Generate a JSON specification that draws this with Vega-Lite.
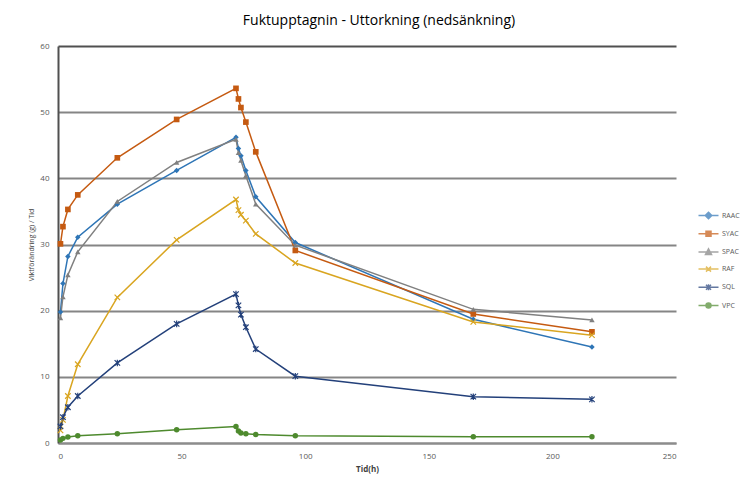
{
  "$schema": "https://vega.github.io/schema/vega-lite/v6.json",
  "autosize": {"type": "none"},
  "width": 618,
  "height": 397,
  "padding": {"left": 58, "top": 46, "right": 65, "bottom": 42},
  "background": "white",
  "title": {
    "text": "Fuktupptagnin - Uttorkning (nedsänkning)",
    "font": "Open Sans",
    "fontSize": 14,
    "fontWeight": "normal",
    "color": "#000000",
    "anchor": "middle",
    "dx": 12,
    "offset": 14
  },
  "config": {
    "view": {"stroke": null},
    "font": "Open Sans"
  },
  "data": {
    "values": [
      {"s": "RAAC", "t": 1, "v": 19.8}, {"s": "RAAC", "t": 2, "v": 24.1}, {"s": "RAAC", "t": 4, "v": 28.2}, {"s": "RAAC", "t": 8, "v": 31.1},
      {"s": "RAAC", "t": 24, "v": 36.1}, {"s": "RAAC", "t": 48, "v": 41.2}, {"s": "RAAC", "t": 72, "v": 46.2}, {"s": "RAAC", "t": 73, "v": 44.5},
      {"s": "RAAC", "t": 74, "v": 43.4}, {"s": "RAAC", "t": 76, "v": 41.2}, {"s": "RAAC", "t": 80, "v": 37.2}, {"s": "RAAC", "t": 96, "v": 30.3},
      {"s": "RAAC", "t": 168, "v": 18.7}, {"s": "RAAC", "t": 216, "v": 14.5},
      {"s": "SYAC", "t": 1, "v": 30.1}, {"s": "SYAC", "t": 2, "v": 32.7}, {"s": "SYAC", "t": 4, "v": 35.3}, {"s": "SYAC", "t": 8, "v": 37.5},
      {"s": "SYAC", "t": 24, "v": 43.1}, {"s": "SYAC", "t": 48, "v": 48.9}, {"s": "SYAC", "t": 72, "v": 53.6}, {"s": "SYAC", "t": 73, "v": 52.0},
      {"s": "SYAC", "t": 74, "v": 50.7}, {"s": "SYAC", "t": 76, "v": 48.5}, {"s": "SYAC", "t": 80, "v": 44.0}, {"s": "SYAC", "t": 96, "v": 29.1},
      {"s": "SYAC", "t": 168, "v": 19.5}, {"s": "SYAC", "t": 216, "v": 16.8},
      {"s": "SPAC", "t": 1, "v": 18.9}, {"s": "SPAC", "t": 2, "v": 22.1}, {"s": "SPAC", "t": 4, "v": 25.4}, {"s": "SPAC", "t": 8, "v": 28.9},
      {"s": "SPAC", "t": 24, "v": 36.5}, {"s": "SPAC", "t": 48, "v": 42.4}, {"s": "SPAC", "t": 72, "v": 45.9}, {"s": "SPAC", "t": 73, "v": 43.9},
      {"s": "SPAC", "t": 74, "v": 42.7}, {"s": "SPAC", "t": 76, "v": 40.4}, {"s": "SPAC", "t": 80, "v": 36.1}, {"s": "SPAC", "t": 96, "v": 29.9},
      {"s": "SPAC", "t": 168, "v": 20.2}, {"s": "SPAC", "t": 216, "v": 18.6},
      {"s": "RAF", "t": 1, "v": 1.9}, {"s": "RAF", "t": 2, "v": 3.5}, {"s": "RAF", "t": 4, "v": 7.1}, {"s": "RAF", "t": 8, "v": 11.9},
      {"s": "RAF", "t": 24, "v": 22.0}, {"s": "RAF", "t": 48, "v": 30.7}, {"s": "RAF", "t": 72, "v": 36.8}, {"s": "RAF", "t": 73, "v": 35.2},
      {"s": "RAF", "t": 74, "v": 34.5}, {"s": "RAF", "t": 76, "v": 33.6}, {"s": "RAF", "t": 80, "v": 31.6}, {"s": "RAF", "t": 96, "v": 27.2},
      {"s": "RAF", "t": 168, "v": 18.3}, {"s": "RAF", "t": 216, "v": 16.3},
      {"s": "SQL", "t": 1, "v": 2.5}, {"s": "SQL", "t": 2, "v": 3.9}, {"s": "SQL", "t": 4, "v": 5.4}, {"s": "SQL", "t": 8, "v": 7.1},
      {"s": "SQL", "t": 24, "v": 12.1}, {"s": "SQL", "t": 48, "v": 18.0}, {"s": "SQL", "t": 72, "v": 22.5}, {"s": "SQL", "t": 73, "v": 20.8},
      {"s": "SQL", "t": 74, "v": 19.4}, {"s": "SQL", "t": 76, "v": 17.5}, {"s": "SQL", "t": 80, "v": 14.2}, {"s": "SQL", "t": 96, "v": 10.1},
      {"s": "SQL", "t": 168, "v": 7.0}, {"s": "SQL", "t": 216, "v": 6.6},
      {"s": "VPC", "t": 1, "v": 0.45}, {"s": "VPC", "t": 2, "v": 0.7}, {"s": "VPC", "t": 4, "v": 0.9}, {"s": "VPC", "t": 8, "v": 1.1},
      {"s": "VPC", "t": 24, "v": 1.4}, {"s": "VPC", "t": 48, "v": 2.0}, {"s": "VPC", "t": 72, "v": 2.5}, {"s": "VPC", "t": 73, "v": 1.8},
      {"s": "VPC", "t": 74, "v": 1.5}, {"s": "VPC", "t": 76, "v": 1.4}, {"s": "VPC", "t": 80, "v": 1.3}, {"s": "VPC", "t": 96, "v": 1.1},
      {"s": "VPC", "t": 168, "v": 0.95}, {"s": "VPC", "t": 216, "v": 0.95}
    ]
  },
  "encoding": {
    "x": {
      "field": "t", "type": "quantitative",
      "scale": {"domain": [0, 250], "nice": false},
      "axis": {
        "title": "Tid(h)", "values": [0, 50, 100, 150, 200, 250],
        "grid": false, "ticks": false,
        "domainColor": "#8C8C8C", "domainWidth": 2,
        "labelFontSize": 8, "labelColor": "#595959", "labelPadding": 9,
        "titleFontSize": 8, "titleFontWeight": "bold", "titleColor": "#404040", "titlePadding": 5
      }
    },
    "y": {
      "field": "v", "type": "quantitative",
      "scale": {"domain": [0, 60], "nice": false},
      "axis": {
        "title": "Viktförändring (g) / Tid", "values": [0, 10, 20, 30, 40, 50, 60],
        "grid": true,
        "gridColor": {"condition": {"test": "datum.value === 60", "value": "#505050"}, "value": "#858585"},
        "gridWidth": 2, "ticks": false,
        "domainColor": "#505050", "domainWidth": 2,
        "labelFontSize": 8, "labelColor": "#595959", "labelPadding": 9,
        "titleFontSize": 7, "titleFontWeight": "normal", "titleColor": "#404040", "titlePadding": 5
      }
    }
  },
  "layer": [
    {
      "mark": {"type": "point", "filled": false, "size": 0},
      "encoding": {
        "shape": {
          "field": "s", "type": "nominal",
          "scale": {
            "domain": ["RAAC", "SYAC", "SPAC", "RAF", "SQL", "VPC"],
            "range": [
              "M-4,0L4,0M0,-1.3L1.3,0L0,1.3L-1.3,0Z",
              "M-4,0L4,0M-1,-1L1,-1L1,1L-1,1Z",
              "M-4,0L4,0M0,-1.2L1.2,1L-1.2,1Z",
              "M-4,0L4,0M-1,-1L1,1M-1,1L1,-1",
              "M-4,0L4,0M-1,-1L1,1M-1,1L1,-1M0,-1.2L0,1.2",
              "M-4,0L4,0M-1,0A1,1,0,1,0,1,0A1,1,0,1,0,-1,0Z"
            ]
          },
          "legend": {
            "title": null, "orient": "none", "legendX": 647, "legendY": 166,
            "symbolSize": 25, "labelFontSize": 7, "labelColor": "#595959",
            "labelOffset": 10, "rowPadding": 6.2, "padding": 0,
            "encode": {"symbols": {"update": {
              "opacity": {"value": 1},
              "fillOpacity": {"value": 1},
              "strokeOpacity": {"value": 1},
              "size": {"value": 25},
              "fill": {"scale": "color", "field": "value"},
              "stroke": {"scale": "color", "field": "value"},
              "strokeWidth": {"value": 1.5}
            }}}
          }
        },
        "color": {
          "field": "s", "type": "nominal",
          "scale": {
            "domain": ["RAAC", "SYAC", "SPAC", "RAF", "SQL", "VPC"],
            "range": ["#2E75B6", "#C55A11", "#808080", "#D9A520", "#23407A", "#4E8A2E"]
          },
          "legend": {
            "title": null, "orient": "none", "legendX": 647, "legendY": 166,
            "symbolSize": 25, "labelFontSize": 7, "labelColor": "#595959",
            "labelOffset": 10, "rowPadding": 6.2, "padding": 0,
            "encode": {"symbols": {"update": {
              "opacity": {"value": 1},
              "fillOpacity": {"value": 1},
              "strokeOpacity": {"value": 1},
              "size": {"value": 25},
              "fill": {"scale": "color", "field": "value"},
              "stroke": {"scale": "color", "field": "value"},
              "strokeWidth": {"value": 1.5}
            }}}
          }
        }
      }
    },
    {"mark": {"type": "line", "strokeWidth": 1.5}, "encoding": {"color": {"field": "s", "type": "nominal", "legend": null}}},
    {"transform": [{"filter": "datum.s === 'RAAC'"}], "mark": {"type": "point", "shape": "diamond", "filled": true, "size": 30, "opacity": 1}, "encoding": {"color": {"field": "s", "type": "nominal", "legend": null}}},
    {"transform": [{"filter": "datum.s === 'SYAC'"}], "mark": {"type": "point", "shape": "square", "filled": true, "size": 32, "opacity": 1}, "encoding": {"color": {"field": "s", "type": "nominal", "legend": null}}},
    {"transform": [{"filter": "datum.s === 'SPAC'"}], "mark": {"type": "point", "shape": "triangle-up", "filled": true, "size": 30, "opacity": 1}, "encoding": {"color": {"field": "s", "type": "nominal", "legend": null}}},
    {"transform": [{"filter": "datum.s === 'RAF'"}], "mark": {"type": "point", "shape": "M-1,-1L1,1M-1,1L1,-1", "filled": false, "size": 30, "strokeWidth": 1.2, "opacity": 1}, "encoding": {"color": {"field": "s", "type": "nominal", "legend": null}}},
    {"transform": [{"filter": "datum.s === 'SQL'"}], "mark": {"type": "point", "shape": "M-1,-1L1,1M-1,1L1,-1M0,-1.2L0,1.2", "filled": false, "size": 30, "strokeWidth": 1.2, "opacity": 1}, "encoding": {"color": {"field": "s", "type": "nominal", "legend": null}}},
    {"transform": [{"filter": "datum.s === 'VPC'"}], "mark": {"type": "point", "shape": "circle", "filled": true, "size": 30, "opacity": 1}, "encoding": {"color": {"field": "s", "type": "nominal", "legend": null}}}
  ]
}
